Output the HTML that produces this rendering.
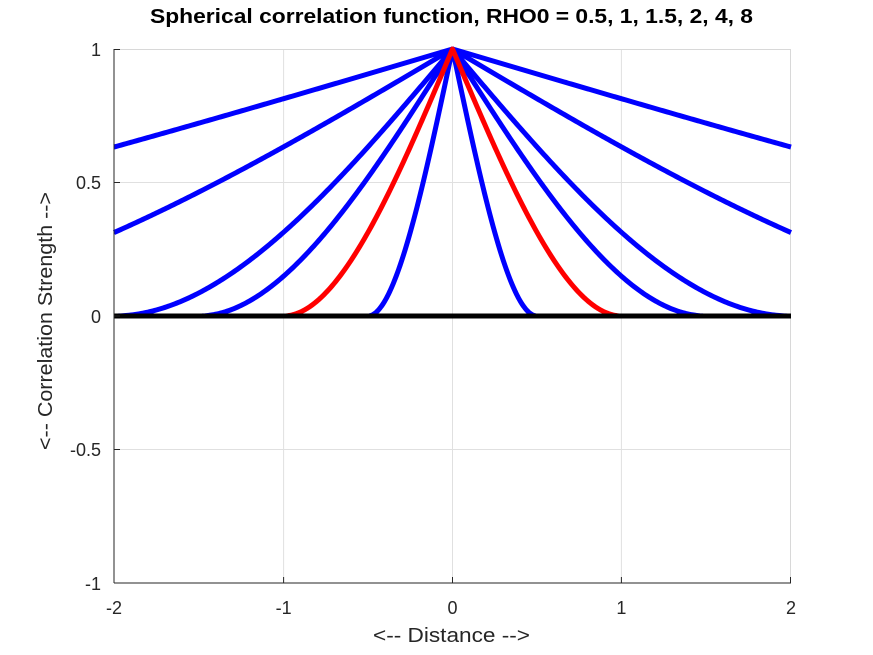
<!DOCTYPE html>
<html><head><meta charset="utf-8"><style>
body{margin:0;background:#fff;}
svg{display:block;font-family:"Liberation Sans",sans-serif;}
</style></head><body>
<svg id="s" width="873" height="655" xmlns="http://www.w3.org/2000/svg">
<rect width="873" height="655" fill="#fff"/>
<g stroke="#e0e0e0" stroke-width="1">
<line x1="283.6" y1="49" x2="283.6" y2="583"/>
<line x1="452.5" y1="49" x2="452.5" y2="583"/>
<line x1="621.4" y1="49" x2="621.4" y2="583"/>
<line x1="114" y1="182.5" x2="791" y2="182.5"/>
<line x1="114" y1="316" x2="791" y2="316"/>
<line x1="114" y1="449.5" x2="791" y2="449.5"/>
<line x1="114" y1="49.5" x2="791" y2="49.5" stroke="#d8d8d8"/>
<line x1="790.5" y1="49" x2="790.5" y2="583" stroke="#d8d8d8"/>
</g>
<g id="curves" fill="none" stroke-width="5" stroke-linejoin="round"></g>
<line x1="114" y1="316" x2="791" y2="316" stroke="#000" stroke-width="5"/>
<g stroke="#262626" stroke-width="1">
<line x1="114" y1="583" x2="791" y2="583"/><line x1="114" y1="49" x2="114" y2="583"/>
<line x1="283.6" y1="583" x2="283.6" y2="577"/><line x1="452.5" y1="583" x2="452.5" y2="577"/><line x1="621.4" y1="583" x2="621.4" y2="577"/><line x1="790.5" y1="583" x2="790.5" y2="577"/>
<line x1="114" y1="182.5" x2="120" y2="182.5"/><line x1="114" y1="316" x2="120" y2="316"/><line x1="114" y1="449.5" x2="120" y2="449.5"/><line x1="114" y1="49.5" x2="120" y2="49.5"/>
</g>
<g font-size="18" fill="#262626" text-anchor="middle">
<text x="114" y="614">-2</text><text x="283.6" y="614">-1</text><text x="452.5" y="614">0</text><text x="621.4" y="614">1</text><text x="791" y="614">2</text>
</g>
<g font-size="18" fill="#262626" text-anchor="end">
<text x="101" y="56">1</text><text x="101" y="189">0.5</text><text x="101" y="323">0</text><text x="101" y="456">-0.5</text><text x="101" y="590">-1</text>
</g>
<text x="373" y="642" font-size="20" fill="#262626" textLength="157" lengthAdjust="spacingAndGlyphs">&lt;-- Distance --&gt;</text>
<text transform="translate(52,450) rotate(-90)" font-size="20" fill="#262626" textLength="258" lengthAdjust="spacingAndGlyphs">&lt;-- Correlation Strength --&gt;</text>
<text x="150" y="23" font-size="20" font-weight="bold" fill="#000" textLength="603" lengthAdjust="spacingAndGlyphs">Spherical correlation function, RHO0 = 0.5, 1, 1.5, 2, 4, 8</text>
</svg>
<script>
var g=document.getElementById('curves');
[0.5,1.5,2,4,8,1].forEach(function(r){
 var p=[];
 for(var i=0;i<=400;i++){var x=-2+4*i/400,h=Math.abs(x)/r,c=h<1?1-1.5*h+0.5*h*h*h:0;
 p.push((452.5+x*169.25).toFixed(2)+','+(316-c*267).toFixed(2));}
 var e=document.createElementNS('http://www.w3.org/2000/svg','polyline');
 e.setAttribute('points',p.join(' '));e.setAttribute('stroke',r==1?'#ff0000':'#0000ff');
 g.appendChild(e);
});
</script>
</body></html>
